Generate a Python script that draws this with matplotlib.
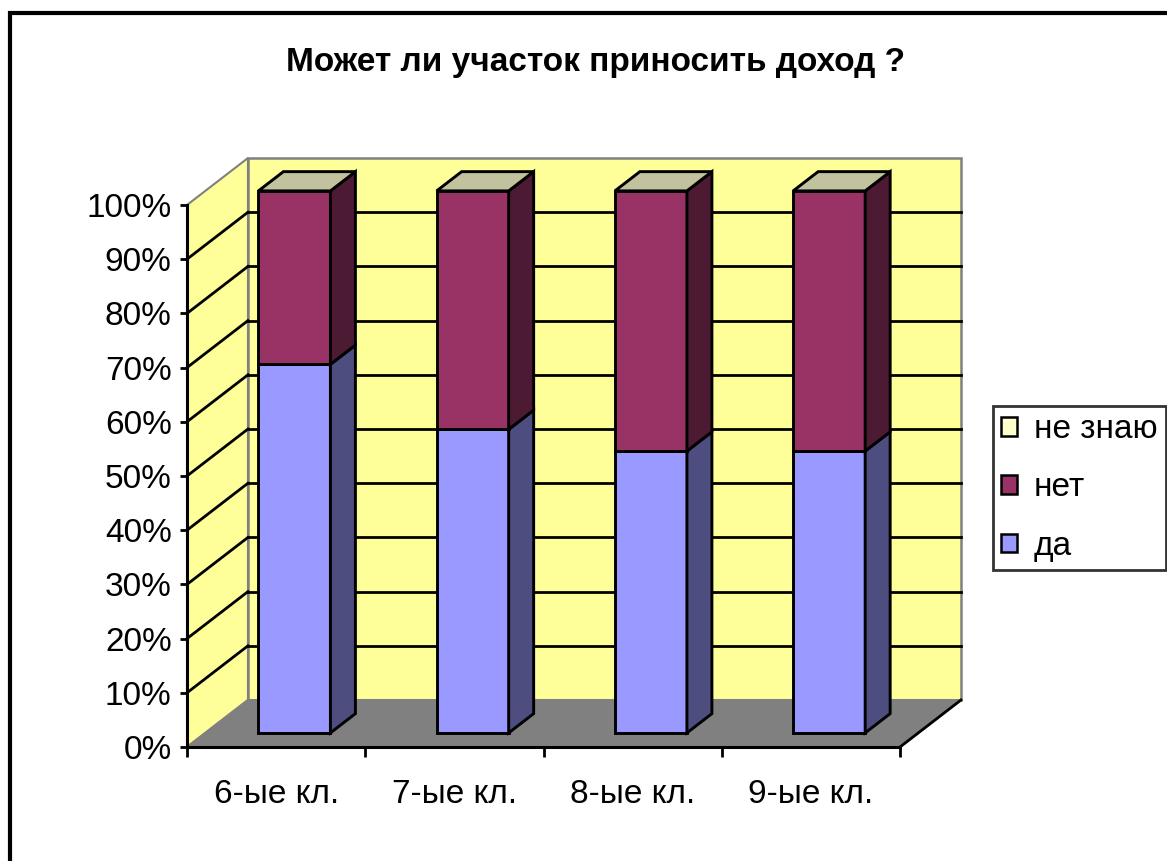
import matplotlib
matplotlib.use("Agg")
import matplotlib.pyplot as plt
from matplotlib.patches import Polygon, Rectangle, Patch

plt.rcParams['font.family'] = ['Liberation Sans', 'DejaVu Sans']

# data
categories = ["6-ые кл.", "7-ые кл.", "8-ые кл.", "9-ые кл."]
series_names = ["да", "нет", "не знаю"]
da = [68, 56, 52, 52]
net = [32, 44, 48, 48]
ne_znayu = [0, 0, 0, 0]
title = "Может ли участок приносить доход ?"

# colours: front face, side face, top face
colors = {
    "да": ("#9999FF", "#4D4D80", "#7A7ACC"),
    "нет": ("#993366", "#4D1A33", "#7A2952"),
    "не знаю": ("#FFFFCC", "#80806A", "#C2C29E"),
}
wall = "#FFFF99"
floor_c = "#808080"
edge_gray = "#808080"

W, H = 1167, 861
fig = plt.figure(figsize=(W / 100, H / 100), dpi=100)

# outer frame
fig.patches.append(Rectangle((9.5 / W, -0.2), 1.5, 1.2 - 13 / H, transform=fig.transFigure,
                             fill=False, edgecolor="black", lw=3))

fig.text(595 / W, 1 - 62 / H, title, ha="center", va="center",
         fontsize=24, fontweight="bold")

# front plane of the 3d box
ax = fig.add_axes([187 / W, (H - 747) / H, 713 / W, 542 / H])
ax.set_xlim(0, 4)
ax.set_ylim(0, 100)
ax.patch.set_visible(False)

n = len(categories)
DX = 0.342   # depth offset in category units
DY = 8.67    # depth offset in percent units

# side wall, back wall, floor
ax.add_patch(Polygon([(0, 0), (DX, DY), (DX, 100 + DY), (0, 100)], closed=True,
                     facecolor=wall, edgecolor=edge_gray, lw=1.5, clip_on=False, zorder=1))
ax.add_patch(Polygon([(DX, DY), (n + DX, DY), (n + DX, 100 + DY), (DX, 100 + DY)], closed=True,
                     facecolor=wall, edgecolor=edge_gray, lw=1.8, clip_on=False, zorder=1))
ax.add_patch(Polygon([(0, 0), (n, 0), (n + DX, DY), (DX, DY)], closed=True,
                     facecolor=floor_c, edgecolor=edge_gray, lw=1.5, clip_on=False, zorder=1.1))
ax.plot([n, n + DX], [0, DY], color="black", lw=2, clip_on=False, zorder=1.2)

# gridlines on the walls
for v in range(10, 100, 10):
    ax.plot([0, DX], [v, v + DY], color="black", lw=2, clip_on=False, zorder=1.3)
    ax.plot([DX, n + DX], [v + DY, v + DY], color="black", lw=2, clip_on=False, zorder=1.3)

# bars
f0, f1 = 0.30, 0.71
bw = 0.404
stack = [da, net, ne_znayu]
z = 3
for i in range(n):
    x0 = i + 0.5 - bw / 2
    x1 = i + 0.5 + bw / 2
    a0, c0 = f0 * DX, f0 * DY
    a1, c1 = f1 * DX, f1 * DY
    bottom = 0
    for k, name in enumerate(series_names):
        v = stack[k][i]
        top = bottom + v
        front, side, topc = colors[name]
        if v > 0:
            ax.add_patch(Polygon([(x0 + a0, bottom + c0), (x1 + a0, bottom + c0),
                                  (x1 + a0, top + c0), (x0 + a0, top + c0)], closed=True,
                                 facecolor=front, edgecolor="black", lw=2.1,
                                 clip_on=False, zorder=z))
            ax.add_patch(Polygon([(x1 + a0, bottom + c0), (x1 + a1, bottom + c1),
                                  (x1 + a1, top + c1), (x1 + a0, top + c0)], closed=True,
                                 facecolor=side, edgecolor="black", lw=2.1,
                                 clip_on=False, zorder=z))
        if k == len(series_names) - 1:
            ax.add_patch(Polygon([(x0 + a0, top + c0), (x1 + a0, top + c0),
                                  (x1 + a1, top + c1), (x0 + a1, top + c1)], closed=True,
                                 facecolor=topc, edgecolor="black", lw=2.1,
                                 clip_on=False, zorder=z))
        bottom = top

# axes
for s in ["top", "right"]:
    ax.spines[s].set_visible(False)
for s in ["left", "bottom"]:
    ax.spines[s].set_linewidth(2.2)
    ax.spines[s].set_zorder(5)
ax.set_yticks(range(0, 101, 10))
ax.set_yticklabels([f"{v}%" for v in range(0, 101, 10)])
ax.tick_params(axis="y", direction="out", length=5, width=2, labelsize=24, pad=6)
ax.set_xticks(range(n + 1))
ax.set_xticklabels([])
ax.tick_params(axis="x", which="major", direction="out", length=7, width=2)
ax.set_xticks([i + 0.5 for i in range(n)], minor=True)
ax.set_xticklabels(categories, minor=True)
ax.tick_params(axis="x", which="minor", length=0, labelsize=24, pad=23)

handles = [Patch(facecolor=colors[nm][0], edgecolor="black", lw=1.8) for nm in series_names[::-1]]
leg = fig.legend(handles, series_names[::-1], loc="center left",
                 bbox_to_anchor=(993 / W, 1 - 488 / H), fontsize=24, frameon=True,
                 fancybox=False, handlelength=0.48, handleheight=0.48, handletextpad=0.5,
                 labelspacing=0.82, borderpad=0.25, borderaxespad=0)
leg.get_frame().set_edgecolor("black")
leg.get_frame().set_linewidth(2)

fig.savefig("out.png", dpi=100)
